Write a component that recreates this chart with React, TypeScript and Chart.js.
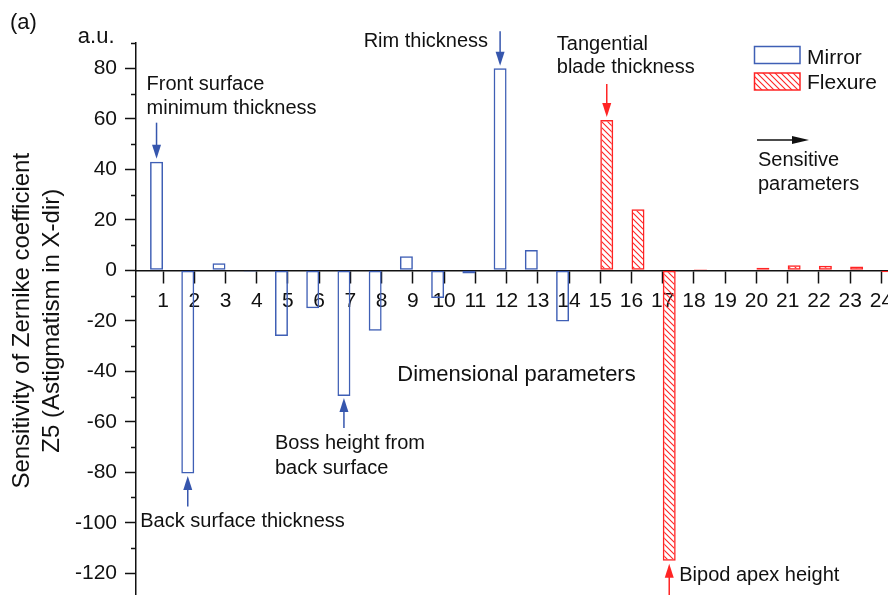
import React, { useEffect, useRef } from 'react';
import { Chart, registerables } from 'chart.js';

Chart.register(...registerables);

const FONT = "'Liberation Sans', Arial, Helvetica, sans-serif";

// Dimensional parameter numbers along the horizontal axis
const parameterIds = [1, 2, 3, 4, 5, 6, 7, 8, 9, 10, 11, 12, 13, 14, 15, 16, 17, 18, 19, 20, 21, 22, 23, 24];

// Mirror parameters (1-14) and their Z5 sensitivity, a.u.
const mirrorIds = [1, 2, 3, 4, 5, 6, 7, 8, 9, 10, 11, 12, 13, 14];
const mirrorValues = [43, -80.5, 2.8, -0.5, -26, -15, -49.8, -24, 5.5, -11, -1.3, 80, 8, -20.3];

// Flexure parameters (15-24) and their Z5 sensitivity, a.u.
const flexureIds = [15, 16, 17, 18, 19, 20, 21, 22, 23, 24];
const flexureValues = [59.5, 24.2, -115, 0.4, 0.2, 1, 2, 1.8, 1.5, -0.8];

// Value axis range and the step of the labelled ticks
const yRange = [-130, 90];
const yLabelStep = 20;

const INK = '#111111';
const BLUE = '#3f5fb5';
const BLUE_ARROW = '#3656ad';
const RED = '#ff2424';

function hatch(color: string): CanvasPattern | string {
  const s = 6;
  const c = document.createElement('canvas');
  c.width = s;
  c.height = s;
  const g = c.getContext('2d');
  if (!g) return color;
  g.strokeStyle = color;
  g.lineWidth = 1.1;
  g.beginPath();
  g.moveTo(-1, -1);
  g.lineTo(s + 1, s + 1);
  g.moveTo(s - 1, -1);
  g.lineTo(s + 1, 1);
  g.moveTo(-1, s - 1);
  g.lineTo(1, s + 1);
  g.stroke();
  return g.createPattern(c, 'repeat') || color;
}

function arrow(
  ctx: CanvasRenderingContext2D,
  x1: number, y1: number, x2: number, y2: number,
  color: string, headLen = 14, headHalf = 4.5
) {
  const a = Math.atan2(y2 - y1, x2 - x1);
  const cos = Math.cos(a);
  const sin = Math.sin(a);
  ctx.save();
  ctx.strokeStyle = color;
  ctx.fillStyle = color;
  ctx.lineWidth = 1.5;
  ctx.beginPath();
  ctx.moveTo(x1, y1);
  ctx.lineTo(x2 - cos * headLen * 0.8, y2 - sin * headLen * 0.8);
  ctx.stroke();
  ctx.beginPath();
  ctx.moveTo(x2, y2);
  ctx.lineTo(x2 - cos * headLen - sin * headHalf, y2 - sin * headLen + cos * headHalf);
  ctx.lineTo(x2 - cos * headLen + sin * headHalf, y2 - sin * headLen - cos * headHalf);
  ctx.closePath();
  ctx.fill();
  ctx.restore();
}

function label(
  ctx: CanvasRenderingContext2D, str: string, x: number, y: number,
  size = 20, align: CanvasTextAlign = 'left'
) {
  ctx.save();
  ctx.font = `${size}px ${FONT}`;
  ctx.textAlign = align;
  ctx.textBaseline = 'alphabetic';
  ctx.fillStyle = INK;
  ctx.fillText(str, x, y);
  ctx.restore();
}

type BarGeom = { x: number; y: number; base: number; width: number };

function bar(chart: Chart, ds: number, i: number): BarGeom {
  const el: any = chart.getDatasetMeta(ds).data[i];
  return el.getProps(['x', 'y', 'base', 'width'], true) as BarGeom;
}

const annotations = {
  id: 'annotations',
  afterDraw(chart: Chart) {
    const { ctx, chartArea, scales } = chart;
    const ys: any = scales.y;
    const xs: any = scales.x;

    // short unlabelled ticks on the value axis
    ctx.save();
    ctx.strokeStyle = INK;
    ctx.lineWidth = 1.5;
    for (const t of ys.ticks) {
      if (t.value % yLabelStep === 0) continue;
      const py = Math.round(ys.getPixelForValue(t.value)) + 0.5;
      ctx.beginPath();
      ctx.moveTo(chartArea.left - 5, py);
      ctx.lineTo(chartArea.left, py);
      ctx.stroke();
    }
    ctx.restore();

    // callouts for the most sensitive parameters
    const b1 = bar(chart, 0, 0);
    arrow(ctx, b1.x, b1.y - 39, b1.x, b1.y - 3, BLUE_ARROW);
    label(ctx, 'Front surface', b1.x - 10, b1.y - 71.5);
    label(ctx, 'minimum thickness', b1.x - 10, b1.y - 47.5);

    const b12 = bar(chart, 0, 11);
    arrow(ctx, b12.x, b12.y - 37, b12.x, b12.y - 2.5, BLUE_ARROW);
    label(ctx, 'Rim thickness', b12.x - 12, b12.y - 21, 20, 'right');

    const b15 = bar(chart, 1, 0);
    arrow(ctx, b15.x, b15.y - 36, b15.x, b15.y - 3, RED);
    label(ctx, 'Tangential', b15.x - 50, b15.y - 70.5);
    label(ctx, 'blade thickness', b15.x - 50, b15.y - 47);

    const b2 = bar(chart, 0, 1);
    arrow(ctx, b2.x, b2.y + 33, b2.x, b2.y + 2.5, BLUE_ARROW);
    label(ctx, 'Back surface thickness', b2.x - 47.5, b2.y + 53.5);

    const b7 = bar(chart, 0, 6);
    arrow(ctx, b7.x, b7.y + 32, b7.x, b7.y + 2, BLUE_ARROW);
    label(ctx, 'Boss height from', b7.x - 69, b7.y + 53.5);
    label(ctx, 'back surface', b7.x - 69, b7.y + 78.5);

    const b17 = bar(chart, 1, 2);
    arrow(ctx, b17.x, b17.y + 42, b17.x, b17.y + 3, RED);
    label(ctx, 'Bipod apex height', b17.x + 10, b17.y + 20);

    // axis captions
    label(ctx, 'Dimensional parameters', xs.getPixelForValue(8.5), ys.getPixelForValue(-44), 22);
    label(ctx, 'a.u.', chartArea.left - 21.5, chartArea.top - 0.5, 22, 'right');
    label(ctx, '(a)', 10, 29, 22);

    // legend
    const datasets = chart.data.datasets as any[];
    const lx = 754.5;
    ctx.save();
    ctx.lineWidth = 1.5;
    ctx.strokeStyle = datasets[0].borderColor;
    ctx.strokeRect(lx, 46.5, 45.5, 17);
    ctx.fillStyle = datasets[1].backgroundColor;
    ctx.fillRect(lx, 73, 45.5, 17);
    ctx.strokeStyle = datasets[1].borderColor;
    ctx.strokeRect(lx, 73, 45.5, 17);
    ctx.restore();
    label(ctx, datasets[0].label, 807, 63.5, 21);
    label(ctx, datasets[1].label, 807, 89, 21);

    // direction hint
    arrow(ctx, 757, 140, 809, 140, INK, 17, 4);
    label(ctx, 'Sensitive', 758, 165.5);
    label(ctx, 'parameters', 758, 189.5);
  },
};

export default function App() {
  const ref = useRef<HTMLCanvasElement>(null);

  useEffect(() => {
    if (!ref.current) return;
    Chart.defaults.font.family = FONT;
    Chart.defaults.color = INK;

    const chart = new Chart(ref.current, {
      type: 'bar',
      data: {
        datasets: [
          {
            label: 'Mirror',
            data: mirrorIds.map((id, i) => ({ x: id, y: mirrorValues[i] })),
            backgroundColor: 'rgba(0,0,0,0)',
            borderColor: BLUE,
            borderWidth: 1.5,
            borderSkipped: false,
            categoryPercentage: 0.83,
            barPercentage: 1,
          },
          {
            label: 'Flexure',
            data: flexureIds.map((id, i) => ({ x: id, y: flexureValues[i] })),
            backgroundColor: hatch(RED) as any,
            borderColor: RED,
            borderWidth: 1.5,
            borderSkipped: false,
            categoryPercentage: 0.83,
            barPercentage: 1,
          },
        ] as any,
      },
      options: {
        animation: false,
        responsive: true,
        maintainAspectRatio: false,
        layout: { padding: { top: 43, bottom: 1.5, left: 0, right: 0 } },
        plugins: {
          legend: { display: false },
          tooltip: { enabled: false },
        },
        scales: {
          x: {
            type: 'linear',
            min: parameterIds[0] - 0.865,
            max: parameterIds[parameterIds.length - 1] + 0.5,
            offset: false,
            position: { y: 0 } as any,
            afterFit: (s: any) => {
              s.paddingLeft = 0;
              s.paddingRight = 0;
            },
            border: { color: INK, width: 1.5 },
            grid: {
              drawOnChartArea: false,
              offset: false,
              tickLength: 12,
              tickWidth: 1.5,
              tickColor: INK,
            },
            ticks: {
              stepSize: 1,
              includeBounds: false,
              autoSkip: false,
              maxRotation: 0,
              padding: 6,
              color: INK,
              font: { size: 21 },
            },
          },
          y: {
            min: yRange[0],
            max: yRange[1],
            afterFit: (s: any) => {
              s.width = 136;
              s.paddingTop = 0;
              s.paddingBottom = 0;
            },
            border: { color: INK, width: 1.5 },
            grid: {
              drawOnChartArea: false,
              tickLength: 11,
              tickWidth: 1.5,
              tickColor: (c: any) =>
                c.tick && c.tick.value % yLabelStep === 0 ? INK : 'rgba(0,0,0,0)',
            },
            ticks: {
              stepSize: 10,
              autoSkip: false,
              padding: 8,
              color: INK,
              font: { size: 21 },
              callback: (v: any) => (Number(v) % yLabelStep === 0 ? String(v) : ''),
            },
            title: {
              display: true,
              text: ['Sensitivity of Zernike coefficient', 'Z5 (Astigmatism in X-dir)'],
              color: INK,
              font: { size: 24, lineHeight: 1.25 },
              padding: { top: 7, bottom: 0 },
            },
          },
        },
      } as any,
      plugins: [annotations],
    });

    return () => chart.destroy();
  }, []);

  return (
    <div
      style={{
        position: 'fixed',
        left: 0,
        top: 0,
        width: 888,
        height: 595,
        overflow: 'hidden',
        background: '#ffffff',
      }}
    >
      <div style={{ position: 'absolute', left: 0, top: 0, width: 897, height: 600 }}>
        <canvas ref={ref} />
      </div>
    </div>
  );
}
